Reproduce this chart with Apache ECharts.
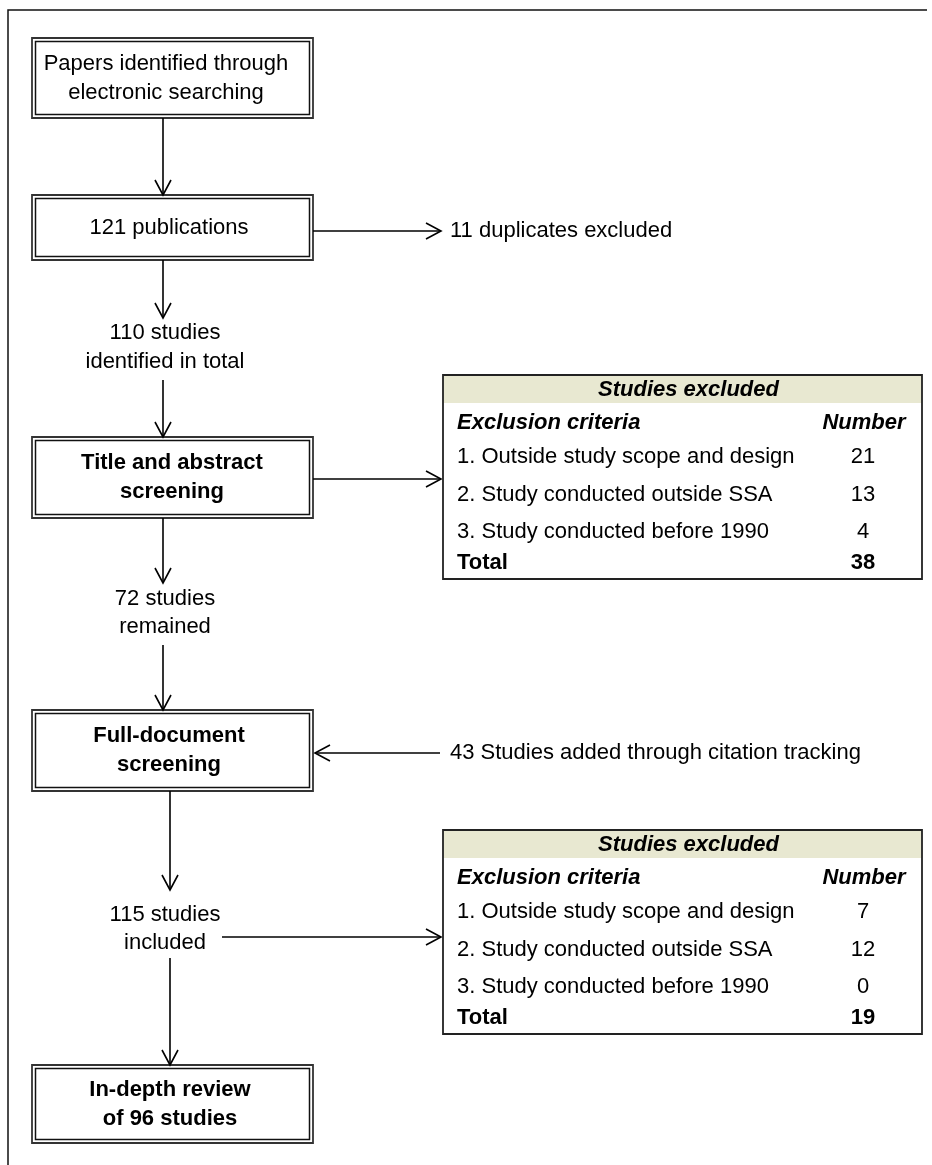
<!DOCTYPE html>
<html>
<head>
<meta charset="utf-8">
<script src="https://cdn.jsdelivr.net/npm/echarts@6/dist/echarts.min.js"></script>
<style>
  html, body { margin: 0; padding: 0; background: #fff; }
  #chart { width: 932px; height: 1165px; }
</style>
</head>
<body>
<div id="chart"></div>
<script>
// flow steps (box texts)
var steps = [
    ['Papers identified through', 'electronic searching'],
    ['121 publications'],
    ['Title and abstract', 'screening'],
    ['Full-document', 'screening'],
    ['In-depth review', 'of 96 studies']
];
var stepBold = [false, false, true, true, true];
// texts between boxes
var midNotes = [
    ['110 studies', 'identified in total'],
    ['72 studies', 'remained'],
    ['115 studies', 'included']
];
var sideNotes = ['11 duplicates excluded', '43 Studies added through citation tracking'];
// exclusion tables
var tableTitle = 'Studies excluded';
var tableHeader = ['Exclusion criteria', 'Number'];
var criteria = ['1. Outside study scope and design', '2. Study conducted outside SSA', '3. Study conducted before 1990'];
var excludedTitleAbstract = [21, 13, 4];
var excludedFullDoc = [7, 12, 0];
var tableCounts = [excludedTitleAbstract, excludedFullDoc];

// layout in page units (axes run 0..932 and 0..1165)
var layout = {
    boxLeft: 32, boxRight: 313,
    boxes: [[38, 118], [195, 260], [437, 518], [710, 791], [1065, 1143]],
    boxTextX: [166, 169, 172, 169, 170],
    notesX: 165,
    notesY: [[333, 362], [599, 627], [915, 943]],
    sideNotePos: [[450, 231], [450, 753]],
    tableLeft: 443, tableRight: 922, textLeft: 457, numX: 863,
    tableTops: [375, 830],
    rowOffsets: [48, 82, 120, 157, 188],
    headerH: 28, tableH: 204,
    arrows: [
        [163, 118, 163, 195], [163, 260, 163, 318], [163, 380, 163, 437],
        [163, 518, 163, 583], [163, 645, 163, 710], [170, 791, 170, 890],
        [170, 958, 170, 1065],
        [313, 231, 441, 231], [313, 479, 441, 479], [222, 937, 441, 937],
        [440, 753, 315, 753]
    ]
};

var FONT = '"Liberation Sans", Arial, sans-serif';
var INK = '#000';

function txt(s, x, y, opts) {
    opts = opts || {};
    return {
        type: 'text',
        style: {
            text: s, x: x, y: y,
            align: opts.align || 'center', verticalAlign: 'middle',
            font: (opts.weight || '') + ' 22px ' + FONT,
            fill: INK
        }
    };
}

var chart = echarts.init(document.getElementById('chart'));

function idx(arr) { return arr.map(function (d, i) { return [i, 0]; }); }

chart.setOption({
    animation: false,
    grid: { left: 0, right: 0, top: 0, bottom: 0 },
    xAxis: { type: 'value', min: 0, max: 932, show: false },
    yAxis: { type: 'value', min: 0, max: 1165, inverse: true, show: false },
    series: [
        {   // frame
            type: 'custom', clip: false, data: [[0, 0]],
            renderItem: function (params, api) {
                return {
                    type: 'polyline',
                    shape: { points: [api.coord([8, 1165]), api.coord([8, 10]), api.coord([927, 10])] },
                    style: { stroke: '#111', lineWidth: 1.5, fill: null }
                };
            }
        },
        {   // boxes
            type: 'custom', clip: false, data: idx(steps),
            renderItem: function (params, api) {
                var i = params.dataIndex, b = layout.boxes[i];
                var p0 = api.coord([layout.boxLeft, b[0]]), p1 = api.coord([layout.boxRight, b[1]]);
                var w = p1[0] - p0[0], h = p1[1] - p0[1];
                var kids = [
                    { type: 'rect', shape: { x: p0[0], y: p0[1], width: w, height: h },
                      style: { fill: '#fff', stroke: '#333', lineWidth: 1.8 } },
                    { type: 'rect', shape: { x: p0[0] + 3.5, y: p0[1] + 3.5, width: w - 7, height: h - 7 },
                      style: { fill: null, stroke: '#111', lineWidth: 1.5 } }
                ];
                var lines = steps[i], cy = p0[1] + h / 2;
                var cx = api.coord([layout.boxTextX[i], 0])[0];
                lines.forEach(function (t, k) {
                    kids.push(txt(t, cx, cy + (k - (lines.length - 1) / 2) * 29, { weight: stepBold[i] ? 'bold' : '' }));
                });
                return { type: 'group', children: kids };
            }
        },
        {   // notes between boxes
            type: 'custom', clip: false, data: idx(midNotes),
            renderItem: function (params, api) {
                var i = params.dataIndex;
                return {
                    type: 'group',
                    children: midNotes[i].map(function (t, k) {
                        var p = api.coord([layout.notesX, layout.notesY[i][k]]);
                        return txt(t, p[0], p[1]);
                    })
                };
            }
        },
        {   // side notes
            type: 'custom', clip: false, data: idx(sideNotes),
            renderItem: function (params, api) {
                var p = api.coord(layout.sideNotePos[params.dataIndex]);
                return txt(sideNotes[params.dataIndex], p[0], p[1], { align: 'left' });
            }
        },
        {   // arrows
            type: 'custom', clip: false, data: idx(layout.arrows),
            renderItem: function (params, api) {
                var a = layout.arrows[params.dataIndex];
                var s = api.coord([a[0], a[1]]), e = api.coord([a[2], a[3]]);
                var dx = e[0] - s[0], dy = e[1] - s[1], L = Math.sqrt(dx * dx + dy * dy);
                var ux = dx / L, uy = dy / L, px = -uy, py = ux;
                var hl = 15, hw = 8;
                return {
                    type: 'group',
                    children: [
                        { type: 'line', shape: { x1: s[0], y1: s[1], x2: e[0], y2: e[1] },
                          style: { stroke: INK, lineWidth: 1.6 } },
                        { type: 'polyline',
                          shape: { points: [
                              [e[0] - ux * hl + px * hw, e[1] - uy * hl + py * hw],
                              [e[0], e[1]],
                              [e[0] - ux * hl - px * hw, e[1] - uy * hl - py * hw]] },
                          style: { stroke: INK, lineWidth: 1.6, fill: null } }
                    ]
                };
            }
        },
        {   // exclusion tables
            type: 'custom', clip: false, data: idx(tableCounts),
            renderItem: function (params, api) {
                var t = params.dataIndex, top = layout.tableTops[t], counts = tableCounts[t];
                var p0 = api.coord([layout.tableLeft, top]);
                var p1 = api.coord([layout.tableRight, top + layout.tableH]);
                var w = p1[0] - p0[0], h = p1[1] - p0[1];
                var hb = api.coord([0, top + layout.headerH])[1] - p0[1];
                var lx = api.coord([layout.textLeft, 0])[0], nx = api.coord([layout.numX, 0])[0];
                var cx = p0[0] + w / 2;
                function ry(k) { return api.coord([0, top + layout.rowOffsets[k]])[1]; }
                var total = counts.reduce(function (s, v) { return s + v; }, 0);
                var kids = [
                    { type: 'rect', shape: { x: p0[0], y: p0[1], width: w, height: h }, style: { fill: '#fff' } },
                    { type: 'rect', shape: { x: p0[0], y: p0[1], width: w, height: hb }, style: { fill: '#E8E8D1' } },
                    txt(tableTitle, cx + 6, p0[1] + 15, { weight: 'italic bold' }),
                    txt(tableHeader[0], lx, ry(0), { align: 'left', weight: 'italic bold' }),
                    txt(tableHeader[1], nx + 1, ry(0), { weight: 'italic bold' })
                ];
                criteria.forEach(function (c, k) {
                    kids.push(txt(c, lx, ry(k + 1), { align: 'left' }));
                    kids.push(txt(String(counts[k]), nx, ry(k + 1)));
                });
                kids.push(txt('Total', lx, ry(4), { align: 'left', weight: 'bold' }));
                kids.push(txt(String(total), nx, ry(4), { weight: 'bold' }));
                kids.push({ type: 'rect', shape: { x: p0[0], y: p0[1], width: w, height: h },
                            style: { fill: null, stroke: '#222', lineWidth: 1.8 } });
                return { type: 'group', children: kids };
            }
        }
    ]
});
</script>
</body>
</html>
